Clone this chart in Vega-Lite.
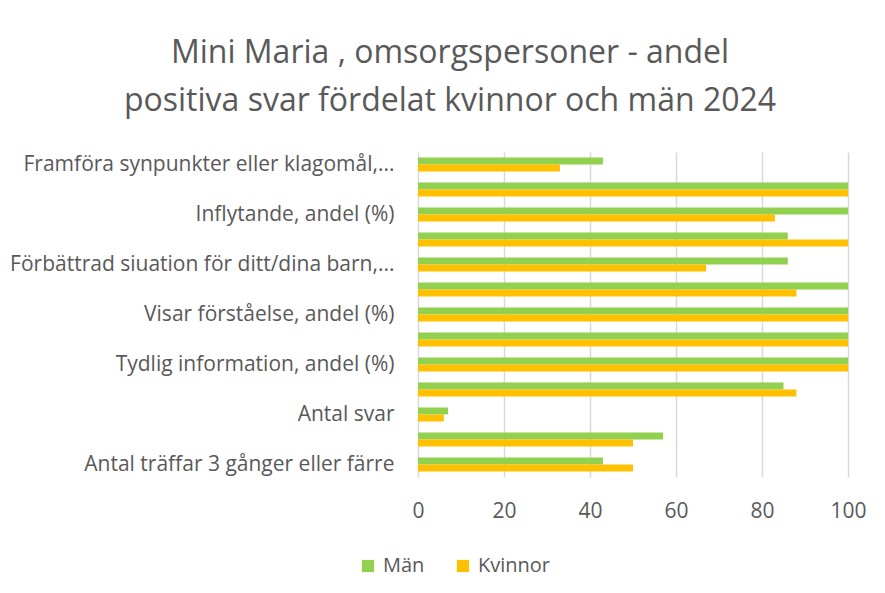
{
  "$schema": "https://vega.github.io/schema/vega-lite/v6.json",
  "width": 430,
  "height": 325,
  "autosize": {"type": "none"},
  "padding": {"left": 418, "top": 152, "right": 37, "bottom": 116},
  "background": "white",
  "title": {
    "text": ["Mini Maria , omsorgspersoner - andel", "positiva svar fördelat kvinnor och män 2024"],
    "font": "Open Sans",
    "fontSize": 32,
    "fontWeight": "normal",
    "color": "#595959",
    "anchor": "middle",
    "dx": -183,
    "lineHeight": 48,
    "offset": 34
  },
  "data": {
    "values": [
      {"fraga": "Framföra synpunkter eller klagomål,...", "kon": "Män", "andel": 43},
      {"fraga": "Framföra synpunkter eller klagomål,...", "kon": "Kvinnor", "andel": 33},
      {"fraga": "Rekommendera verksamheten, andel (%)", "kon": "Män", "andel": 100},
      {"fraga": "Rekommendera verksamheten, andel (%)", "kon": "Kvinnor", "andel": 100},
      {"fraga": "Inflytande, andel (%)", "kon": "Män", "andel": 100},
      {"fraga": "Inflytande, andel (%)", "kon": "Kvinnor", "andel": 83},
      {"fraga": "Helhetsbedömning, andel (%)", "kon": "Män", "andel": 86},
      {"fraga": "Helhetsbedömning, andel (%)", "kon": "Kvinnor", "andel": 100},
      {"fraga": "Förbättrad siuation för ditt/dina barn,...", "kon": "Män", "andel": 86},
      {"fraga": "Förbättrad siuation för ditt/dina barn,...", "kon": "Kvinnor", "andel": 67},
      {"fraga": "Förbättrad situation för dig,...", "kon": "Män", "andel": 100},
      {"fraga": "Förbättrad situation för dig,...", "kon": "Kvinnor", "andel": 88},
      {"fraga": "Visar förståelse, andel (%)", "kon": "Män", "andel": 100},
      {"fraga": "Visar förståelse, andel (%)", "kon": "Kvinnor", "andel": 100},
      {"fraga": "Bemötande, andel (%)", "kon": "Män", "andel": 100},
      {"fraga": "Bemötande, andel (%)", "kon": "Kvinnor", "andel": 100},
      {"fraga": "Tydlig information, andel (%)", "kon": "Män", "andel": 100},
      {"fraga": "Tydlig information, andel (%)", "kon": "Kvinnor", "andel": 100},
      {"fraga": "Tillgänglighet, andel (%)", "kon": "Män", "andel": 85},
      {"fraga": "Tillgänglighet, andel (%)", "kon": "Kvinnor", "andel": 88},
      {"fraga": "Antal svar", "kon": "Män", "andel": 7},
      {"fraga": "Antal svar", "kon": "Kvinnor", "andel": 6},
      {"fraga": "Antal träffar 4 gånger eller fler", "kon": "Män", "andel": 57},
      {"fraga": "Antal träffar 4 gånger eller fler", "kon": "Kvinnor", "andel": 50},
      {"fraga": "Antal träffar 3 gånger eller färre", "kon": "Män", "andel": 43},
      {"fraga": "Antal träffar 3 gånger eller färre", "kon": "Kvinnor", "andel": 50}
    ]
  },
  "mark": {"type": "bar"},
  "encoding": {
    "y": {
      "field": "fraga",
      "type": "nominal",
      "sort": null,
      "scale": {"paddingInner": 0.44, "paddingOuter": 0.22},
      "axis": {
        "title": null,
        "domain": false,
        "ticks": false,
        "labelFont": "Open Sans",
        "labelFontSize": 21,
        "labelColor": "#595959",
        "labelPadding": 24,
        "labelLimit": 0,
        "labelExpr": "indexof(['Framföra synpunkter eller klagomål,...','Inflytande, andel (%)','Förbättrad siuation för ditt/dina barn,...','Visar förståelse, andel (%)','Tydlig information, andel (%)','Antal svar','Antal träffar 3 gånger eller färre'], datum.value) >= 0 ? datum.label : ''"
      }
    },
    "yOffset": {"field": "kon", "type": "nominal", "sort": ["Män", "Kvinnor"], "scale": {"paddingInner": 0, "paddingOuter": 0}},
    "x": {
      "field": "andel",
      "type": "quantitative",
      "scale": {"domain": [0, 100], "nice": false},
      "axis": {
        "title": null,
        "values": [0, 20, 40, 60, 80, 100],
        "domain": false,
        "ticks": false,
        "grid": true,
        "gridColor": "#D9D9D9",
        "gridWidth": 1.5,
        "labelFlush": false,
        "labelFont": "Open Sans",
        "labelFontSize": 21,
        "labelColor": "#595959",
        "labelPadding": 23
      }
    },
    "color": {
      "field": "kon",
      "type": "nominal",
      "sort": ["Män", "Kvinnor"],
      "scale": {"domain": ["Män", "Kvinnor"], "range": ["#92D050", "#FFC000"]},
      "legend": {
        "title": null,
        "orient": "none",
        "direction": "horizontal",
        "legendX": -60,
        "legendY": 404,
        "symbolType": "square",
        "symbolSize": 150,
        "symbolStrokeWidth": 0,
        "labelFont": "Open Sans",
        "labelFontSize": 20,
        "labelColor": "#595959",
        "columnPadding": 28,
        "labelOffset": 5
      }
    }
  },
  "config": {"view": {"stroke": null}}
}
